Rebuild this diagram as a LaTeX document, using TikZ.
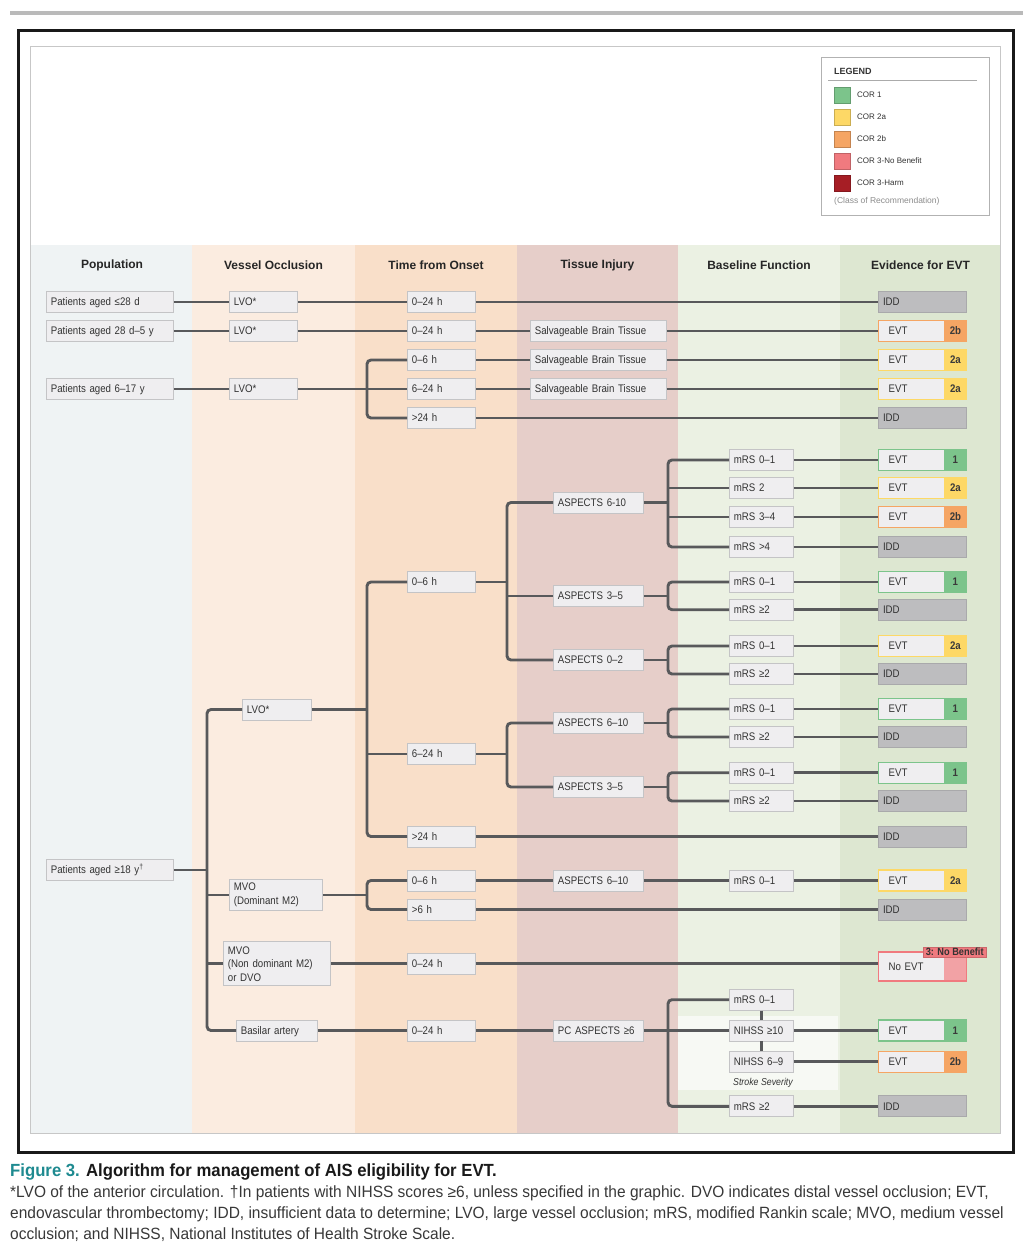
\documentclass[tikz,border=0pt]{standalone}
\usepackage{fontspec}
\setmainfont{Liberation Sans}
\newfontfamily\condfont[FakeStretch=0.88]{Liberation Sans}
\newfontfamily\capfont[FakeStretch=0.95]{Liberation Sans}

\definecolor{linegray}{HTML}{58595B}
\definecolor{boxfill}{HTML}{EFEEF0}
\definecolor{boxline}{HTML}{C4C4C6}
\definecolor{boxtext}{HTML}{333333}
\definecolor{iddgray}{HTML}{BDBDBF}
\definecolor{iddline}{HTML}{A9A9AB}
\definecolor{gradetext}{HTML}{3A3A3A}
\definecolor{cori}{HTML}{7CC48B}
\definecolor{coriia}{HTML}{FDD866}
\definecolor{coriib}{HTML}{F5A564}
\definecolor{coriii}{HTML}{F07A7F}
\definecolor{noevtpink}{HTML}{F2A2A5}
\definecolor{harm}{HTML}{A61E25}
\definecolor{popband}{HTML}{EFF3F4}
\definecolor{vesband}{HTML}{FBECE0}
\definecolor{timeband}{HTML}{F9DFC9}
\definecolor{tisband}{HTML}{E6CEC9}
\definecolor{baseband}{HTML}{EBF1E3}
\definecolor{evband}{HTML}{DDE7D1}
\definecolor{figteal}{HTML}{1E8A90}

\tikzset{
  link/.style={draw=linegray, line width=2.9pt, rounded corners=4pt},
  colhead/.style={font=\bfseries\fontsize{12}{14}\selectfont, text=black!85},
  box/.style={draw=boxline, fill=boxfill, line width=0.8pt, anchor=west,
    minimum height=21pt, inner xsep=4.5pt, inner ysep=1pt, align=left,
    text height=7.9pt, text depth=0pt, text=boxtext,
    font=\condfont\fontsize{11}{13.5}\selectfont},
  popbox/.style={box, text width=118pt},
  vesbox/.style={box, text width=#1},
  timebox/.style={box, text width=59pt},
  tisbox/.style={box, text width=127pt},
  asbox/.style={box, text width=81pt},
  mrsbox/.style={box, text width=55pt},
  ebox/.style={box, line width=1.4pt, text width=68pt, inner xsep=10pt},
  evt/.style 2 args={ebox, draw=#1, fill=#1,
    path picture={\fill[boxfill] ([shift={(0.7pt,-0.7pt)}]path picture bounding box.north west)
      rectangle ([shift={(-23pt,0.7pt)}]path picture bounding box.south east);},
    label={[grade]east:#2}},
  grade/.style={anchor=center, xshift=-12pt, text=gradetext,
    font=\condfont\bfseries\fontsize{11}{12}\selectfont},
  idd/.style={box, draw=iddline, fill=iddgray, line width=1pt, text width=79pt},
  noevt/.style={ebox, minimum height=29pt, draw=coriii, fill=noevtpink,
    path picture={\fill[boxfill] ([shift={(0.7pt,-0.7pt)}]path picture bounding box.north west)
      rectangle ([shift={(-23pt,0.7pt)}]path picture bounding box.south east);}},
  swatch/.style={draw=#1!80!black, fill=#1, line width=0.5pt, minimum width=16pt, minimum height=15.5pt, inner sep=0pt},
  legtext/.style={anchor=west, inner sep=0pt, text=boxtext, font=\fontsize{8}{9}\selectfont},
  capline/.style={anchor=west, inner sep=0pt, text=black!78, font=\capfont\fontsize{16.3}{18}\selectfont}
}

\begin{document}
\begin{tikzpicture}[x=1pt, y=-1pt]
\useasboundingbox (0,0) rectangle (1033,1254);

% frames
\fill[black!27] (10,10.5) rectangle (1023,14.5);
\draw[line width=3pt, black!90] (18.5,30.5) rectangle (1013,1152);

% column bands
\fill[popband]  (31,245) rectangle (192,1133);
\fill[vesband]  (192,245) rectangle (355,1133);
\fill[timeband] (355,245) rectangle (517,1133);
\fill[tisband]  (517,245) rectangle (678,1133);
\fill[baseband] (678,245) rectangle (840,1133);
\fill[evband]   (840,245) rectangle (1000.5,1133);
\fill[white!60!baseband] (678,1016) rectangle (838,1090);
\draw[line width=1pt, black!22] (30.5,46.5) rectangle (1000.5,1133);

% legend
\draw[line width=1pt, black!30, fill=white] (821,57) rectangle (989,215);
\node[anchor=west, inner sep=0pt, text=black!80, font=\bfseries\fontsize{9}{10}\selectfont] (leg) at (834,71) {LEGEND};
\draw[line width=1.5pt, black!33] (828,80.7) -- (977,80.7);
\foreach \c/\t [count=\i] in {cori/COR 1, coriia/COR 2a, coriib/COR 2b, coriii/COR 3-No Benefit, harm/COR 3-Harm}{
  \node[swatch=\c] (sw\i) at (842,73+22*\i) {};
  \node[legtext] (lt\i) at (857,73+22*\i) {\t};
}
\node[anchor=west, inner sep=0pt, text=black!45, font=\fontsize{8.5}{10}\selectfont] (corcls) at (834,201.7) {(Class of Recommendation)};

% column heads
\node[colhead] (hpop) at (112,265) {Population};
\node[colhead] (hves) at (273.5,265) {Vessel Occlusion};
\node[colhead] (htime) at (436,265) {Time from Onset};
\node[colhead] (htis) at (597.5,265) {Tissue Injury};
\node[colhead] (hbase) at (759,265) {Baseline Function};
\node[colhead] (hev) at (920.5,265) {Evidence for EVT};

% pediatric rows
\node[popbox] (p1) at (46,302) {Patients aged ≤28 d};
\node[vesbox=59pt] (v1) at (229,302) {LVO*};
\node[timebox] (t1) at (407,302) {0–24 h};
\node[idd] (e1) at (878,302) {IDD};

\node[popbox] (p2) at (46,331) {Patients aged 28 d–5 y};
\node[vesbox=59pt] (v2) at (229,331) {LVO*};
\node[timebox] (t2) at (407,331) {0–24 h};
\node[tisbox] (s2) at (530,331) {Salvageable Brain Tissue};
\node[evt={coriib}{2b}] (e2) at (878,331) {EVT};

\node[timebox] (t3a) at (407,360) {0–6 h};
\node[tisbox] (s3a) at (530,360) {Salvageable Brain Tissue};
\node[evt={coriia}{2a}] (e3a) at (878,360) {EVT};
\node[popbox] (p3) at (46,389) {Patients aged 6–17 y};
\node[vesbox=59pt] (v3) at (229,389) {LVO*};
\node[timebox] (t3b) at (407,389) {6–24 h};
\node[tisbox] (s3b) at (530,389) {Salvageable Brain Tissue};
\node[evt={coriia}{2a}] (e3b) at (878,389) {EVT};
\node[timebox] (t3c) at (407,418) {>24 h};
\node[idd] (e3c) at (878,418) {IDD};

\draw[link] (p1) -- (v1) -- (t1) -- (e1);
\draw[link] (p2) -- (v2) -- (t2) -- (s2) -- (e2);
\draw[link] (p3) -- (v3) -- (t3b) -- (s3b) -- (e3b);
\coordinate (sp) at (367,389);
\draw[link] (t3a.west) -| (sp) |- (t3c.west);
\draw[link] (t3a) -- (s3a) -- (e3a);
\draw[link] (t3c) -- (e3c);

% adult population
\node[popbox] (pa) at (46,870) {Patients aged ≥18 y\textsuperscript{†}};
\node[vesbox=60pt] (va1) at (242,709.5) {LVO*};
\node[vesbox=84pt, minimum height=31.5pt, text height=, text depth=] (va2) at (229,895) {MVO\\(Dominant M2)};
\node[vesbox=98pt, minimum height=44pt, text height=, text depth=] (va3) at (223,963.7) {MVO\\(Non dominant M2)\\or DVO};
\node[vesbox=72pt] (va4) at (236,1030.5) {Basilar artery};
\coordinate (sa) at (207,870);
\draw[link] (pa.east) -- (sa);
\draw[link] (va1.west) -| (sa) |- (va4.west);
\draw[link] (sa |- va2.west) -- (va2.west);
\draw[link] (sa |- va3.west) -- (va3.west);

% LVO, time windows
\node[timebox] (ta1) at (407,582) {0–6 h};
\node[timebox] (ta2) at (407,754) {6–24 h};
\node[timebox] (ta3) at (407,836.5) {>24 h};
\coordinate (sb) at (367,709.5);
\draw[link] (va1.east) -- (sb);
\draw[link] (ta1.west) -| (sb) |- (ta3.west);
\draw[link] (sb |- ta2.west) -- (ta2.west);

% 0-6 h
\node[asbox] (a1) at (553,502.5) {ASPECTS 6-10};
\node[asbox] (a2) at (553,596) {ASPECTS 3–5};
\node[asbox] (a3) at (553,660) {ASPECTS 0–2};
\coordinate (sc) at (507,582);
\draw[link] (ta1.east) -- (sc);
\draw[link] (a1.west) -| (sc) |- (a3.west);
\draw[link] (sc |- a2.west) -- (a2.west);

\node[mrsbox] (m1) at (729,460) {mRS 0–1};
\node[mrsbox] (m2) at (729,488) {mRS 2};
\node[mrsbox] (m3) at (729,517) {mRS 3–4};
\node[mrsbox] (m4) at (729,547) {mRS >4};
\node[evt={cori}{1}] (e4) at (878,460) {EVT};
\node[evt={coriia}{2a}] (e5) at (878,488) {EVT};
\node[evt={coriib}{2b}] (e6) at (878,517) {EVT};
\node[idd] (e7) at (878,547) {IDD};
\coordinate (sd) at (668,502.5);
\draw[link] (a1.east) -- (sd);
\draw[link] (m1.west) -| (sd) |- (m4.west);
\draw[link] (sd |- m2.west) -- (m2.west);
\draw[link] (sd |- m3.west) -- (m3.west);
\draw[link] (m1) -- (e4);
\draw[link] (m2) -- (e5);
\draw[link] (m3) -- (e6);
\draw[link] (m4) -- (e7);

\node[mrsbox] (m5) at (729,582) {mRS 0–1};
\node[mrsbox] (m6) at (729,609.7) {mRS ≥2};
\node[evt={cori}{1}] (e8) at (878,582) {EVT};
\node[idd] (e9) at (878,609.7) {IDD};
\coordinate (se) at (668,596);
\draw[link] (a2.east) -- (se);
\draw[link] (m5.west) -| (se) |- (m6.west);
\draw[link] (m5) -- (e8);
\draw[link] (m6) -- (e9);

\node[mrsbox] (m7) at (729,646) {mRS 0–1};
\node[mrsbox] (m8) at (729,674) {mRS ≥2};
\node[evt={coriia}{2a}] (e10) at (878,646) {EVT};
\node[idd] (e11) at (878,674) {IDD};
\coordinate (sf) at (668,660);
\draw[link] (a3.east) -- (sf);
\draw[link] (m7.west) -| (sf) |- (m8.west);
\draw[link] (m7) -- (e10);
\draw[link] (m8) -- (e11);

% 6-24 h
\node[asbox] (a4) at (553,723) {ASPECTS 6–10};
\node[asbox] (a5) at (553,787) {ASPECTS 3–5};
\coordinate (sg) at (507,754);
\draw[link] (ta2.east) -- (sg);
\draw[link] (a4.west) -| (sg) |- (a5.west);

\node[mrsbox] (m9) at (729,709) {mRS 0–1};
\node[mrsbox] (m10) at (729,737) {mRS ≥2};
\node[evt={cori}{1}] (e12) at (878,709) {EVT};
\node[idd] (e13) at (878,737) {IDD};
\coordinate (sh) at (668,723);
\draw[link] (a4.east) -- (sh);
\draw[link] (m9.west) -| (sh) |- (m10.west);
\draw[link] (m9) -- (e12);
\draw[link] (m10) -- (e13);

\node[mrsbox] (m11) at (729,772.7) {mRS 0–1};
\node[mrsbox] (m12) at (729,801) {mRS ≥2};
\node[evt={cori}{1}] (e14) at (878,772.7) {EVT};
\node[idd] (e15) at (878,801) {IDD};
\coordinate (si) at (668,787);
\draw[link] (a5.east) -- (si);
\draw[link] (m11.west) -| (si) |- (m12.west);
\draw[link] (m11) -- (e14);
\draw[link] (m12) -- (e15);

% >24 h
\node[idd] (e16) at (878,836.5) {IDD};
\draw[link] (ta3) -- (e16);

% MVO dominant
\node[timebox] (ta4) at (407,880.5) {0–6 h};
\node[timebox] (ta5) at (407,909.5) {>6 h};
\coordinate (sj) at (367,895);
\draw[link] (va2.east) -- (sj);
\draw[link] (ta4.west) -| (sj) |- (ta5.west);
\node[asbox] (a6) at (553,880.5) {ASPECTS 6–10};
\node[mrsbox] (m13) at (729,880.5) {mRS 0–1};
\node[evt={coriia}{2a}] (e17) at (878,880.5) {EVT};
\node[idd] (e18) at (878,909.5) {IDD};
\draw[link] (ta4) -- (a6) -- (m13) -- (e17);
\draw[link] (ta5) -- (e18);

% MVO non dominant
\node[timebox] (ta6) at (407,963.7) {0–24 h};
\node[noevt] (e19) at (878,966.3) {No EVT};
\node[fill=coriii, draw=coriii!85!black, line width=0.6pt, inner xsep=2.5pt, inner ysep=1pt,
  text=black!80, font=\condfont\bfseries\fontsize{10.5}{11}\selectfont] (nb) at (954.7,952) {3: No Benefit};
\draw[link] (va3.east) -- (ta6.west);
\draw[link] (ta6.east) -- (ta6.east -| e19.west);

% basilar artery
\node[timebox] (ta7) at (407,1030.5) {0–24 h};
\node[asbox] (a7) at (553,1030.5) {PC ASPECTS ≥6};
\node[mrsbox] (m14) at (729,999.7) {mRS 0–1};
\node[mrsbox] (n1) at (729,1030.5) {NIHSS ≥10};
\node[mrsbox] (n2) at (729,1061.7) {NIHSS 6–9};
\node[mrsbox] (m15) at (729,1106.3) {mRS ≥2};
\node[text=boxtext, font=\condfont\itshape\fontsize{10}{12}\selectfont] (ss) at (763,1083.3) {Stroke Severity};
\node[evt={cori}{1}] (e20) at (878,1030.5) {EVT};
\node[evt={coriib}{2b}] (e21) at (878,1061.7) {EVT};
\node[idd] (e22) at (878,1106.3) {IDD};
\coordinate (sk) at (668,1030.5);
\draw[link] (va4) -- (ta7) -- (a7) -- (n1);
\draw[link] (m14.west) -| (sk) |- (m15.west);
\draw[link] (m14.south) -- (n1.north);
\draw[link] (n1.south) -- (n2.north);
\draw[link] (n1) -- (e20);
\draw[link] (n2) -- (e21);
\draw[link] (m15) -- (e22);

% caption
\node[capline, font=\capfont\bfseries\fontsize{17.6}{20}\selectfont, text=black!90] (cap) at (10,1172)
  {\textcolor{figteal}{Figure 3.} Algorithm for management of AIS eligibility for EVT.};
\node[capline] (note1) at (10,1193) {*LVO of the anterior circulation. †In patients with NIHSS scores ≥6, unless specified in the graphic. DVO indicates distal vessel occlusion; EVT,};
\node[capline] (note2) at (10,1214) {endovascular thrombectomy; IDD, insufficient data to determine; LVO, large vessel occlusion; mRS, modified Rankin scale; MVO, medium vessel};
\node[capline] (note3) at (10,1235) {occlusion; and NIHSS, National Institutes of Health Stroke Scale.};
\end{tikzpicture}
\end{document}
